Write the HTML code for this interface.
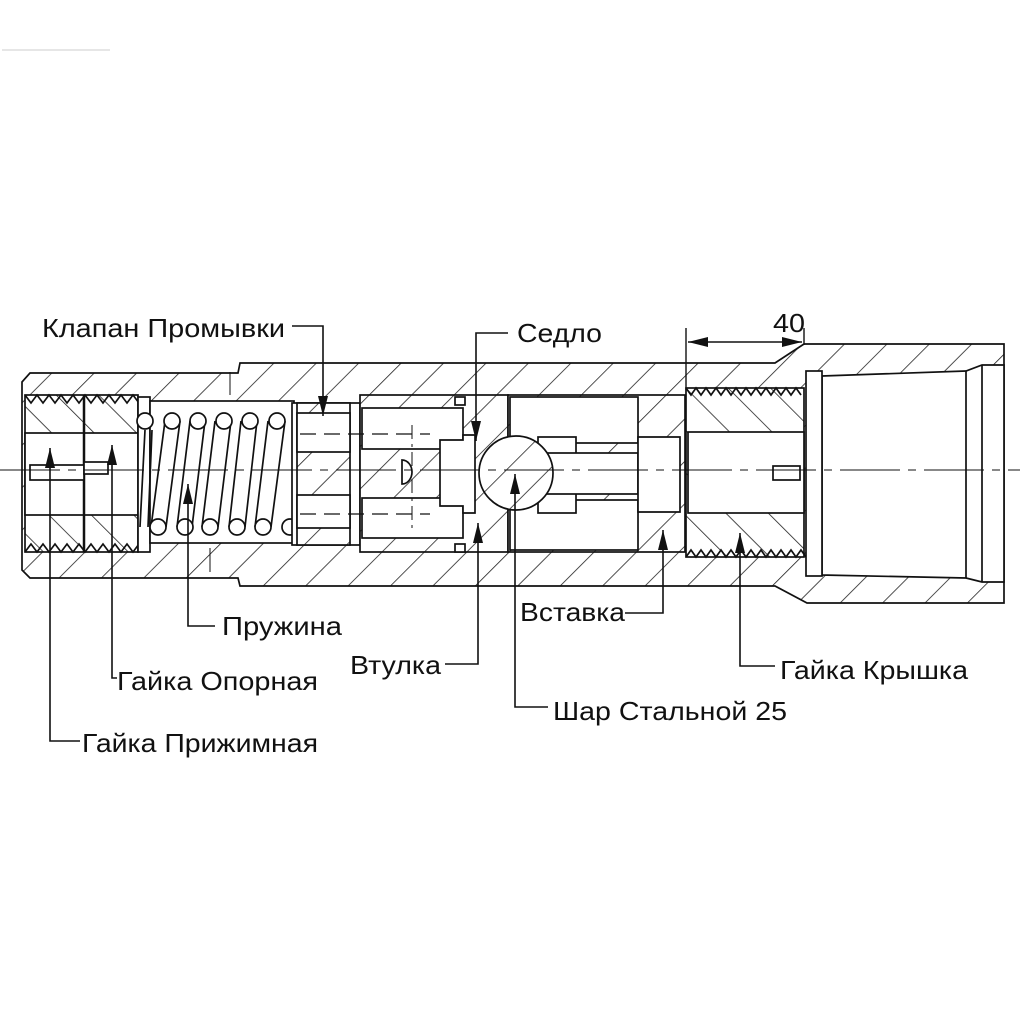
<!DOCTYPE html>
<html><head><meta charset="utf-8"><style>
html,body{margin:0;padding:0;background:#fff;}
svg{display:block;}
text{font-family:"Liberation Sans",sans-serif;font-size:26px;fill:#111;}
</style></head><body>
<svg width="1024" height="1024" viewBox="0 0 1024 1024" xmlns="http://www.w3.org/2000/svg">
<defs>
<pattern id="h" patternUnits="userSpaceOnUse" width="30" height="30" patternTransform="rotate(45)">
<rect width="30" height="30" fill="#fff"/>
<line x1="0" y1="0" x2="0" y2="30" stroke="#222" stroke-width="1.6"/>
</pattern>
<pattern id="h2" patternUnits="userSpaceOnUse" width="30" height="30" patternTransform="rotate(-45)">
<rect width="30" height="30" fill="#fff"/>
<line x1="0" y1="0" x2="0" y2="30" stroke="#222" stroke-width="1.6"/>
</pattern>
<marker id="a" viewBox="0 0 20 10" refX="20" refY="5" markerWidth="20" markerHeight="11" orient="auto-start-reverse" markerUnits="userSpaceOnUse">
<path d="M0,0 L20,5 L0,10 Z" fill="#111"/>
</marker>
</defs>
<line x1="2" y1="50" x2="110" y2="50" stroke="#ccc" stroke-width="1"/>

<g stroke="#111" stroke-width="1.7" fill="none">
<path d="M22,382 L30,373 L238,373 L240,363 L775,363 L804,344 L1004,344 L1004,603 L807,603 L775,586 L240,586 L238,578 L30,578 L22,570 Z" fill="url(#h)"/>
<rect x="25" y="395" width="113" height="157" fill="url(#h2)"/>
<rect x="25" y="433" width="113" height="82" fill="#fff"/>
<line x1="84" y1="395" x2="84" y2="552" stroke-width="2.5"/>
<path d="M25,395 l6,8 l6,-8 l6,8 l6,-8 l6,8 l6,-8 l6,8 l6,-8 l6,8 l6,-8 l6,8 l6,-8 l6,8 l6,-8 l6,8 l6,-8 l6,8 l6,-8 l6,8"/>
<path d="M25,552 l6,-8 l6,8 l6,-8 l6,8 l6,-8 l6,8 l6,-8 l6,8 l6,-8 l6,8 l6,-8 l6,8 l6,-8 l6,8 l6,-8 l6,8 l6,-8 l6,8 l6,-8"/>
<rect x="30" y="465" width="54" height="15" fill="#fff"/>
<rect x="84" y="462" width="24" height="12" fill="#fff"/>
<rect x="138" y="397" width="12" height="155" fill="#fff"/>
<rect x="150" y="401" width="144" height="142" fill="#fff"/>
<line x1="230" y1="372" x2="230" y2="395" stroke-width="1"/>
<line x1="210" y1="548" x2="210" y2="572" stroke-width="1"/>
</g>
<g stroke="#111" stroke-width="1.7" fill="#fff">
<path d="M165,421 L151,527 M180,421 L166,527"/>
<path d="M190,421 L177,527 M205,421 L192,527"/>
<path d="M215,421 L202,527 M231,421 L218,527"/>
<path d="M241,421 L229,527 M257,421 L245,527"/>
<path d="M268,421 L255,527 M285,421 L271,527"/>
<circle cx="145" cy="421" r="8"/>
<circle cx="172" cy="421" r="8"/><circle cx="198" cy="421" r="8"/><circle cx="224" cy="421" r="8"/><circle cx="250" cy="421" r="8"/><circle cx="277" cy="421" r="8"/>
<circle cx="158" cy="527" r="8"/><circle cx="185" cy="527" r="8"/><circle cx="210" cy="527" r="8"/><circle cx="237" cy="527" r="8"/><circle cx="263" cy="527" r="8"/><circle cx="290" cy="527" r="8"/>
<path d="M145,430 L140,527 M152,430 L148,527" fill="none"/>
</g>
<g stroke="#111" stroke-width="1.7" fill="none">
<rect x="292" y="403" width="68" height="142" fill="#fff"/>
<rect x="297" y="403" width="53" height="142" fill="url(#h)"/>
<rect x="297" y="413" width="53" height="39" fill="#fff"/>
<rect x="297" y="495" width="53" height="33" fill="#fff"/>
<rect x="360" y="395" width="148" height="157" fill="url(#h)"/>
<rect x="362" y="408" width="101" height="41" fill="#fff"/>
<rect x="362" y="498" width="101" height="40" fill="#fff"/>
<path d="M440,440 L463,440 L463,435 L475,435 L475,513 L463,513 L463,506 L440,506 Z" fill="#fff"/>
<path d="M402,460 a10,12 0 0 1 0,24 Z" fill="#fff"/>
<path d="M300,434 L430,434 M300,514 L430,514" stroke-dasharray="16,8" stroke-width="1.2"/>
<line x1="412" y1="425" x2="412" y2="530" stroke-width="1" stroke-dasharray="14,5,3,5"/>
<rect x="455" y="397" width="10" height="8" fill="#fff"/>
<rect x="455" y="544" width="10" height="8" fill="#fff"/>
<rect x="508" y="395" width="177" height="157" fill="url(#h)"/>
<rect x="510" y="397" width="128" height="46" fill="#fff"/>
<rect x="510" y="500" width="128" height="50" fill="#fff"/>
<rect x="538" y="437" width="38" height="76" fill="#fff"/>
<rect x="538" y="453" width="100" height="41" fill="#fff"/>
<path d="M638,437 L680,437 L680,512 L638,512 Z" fill="#fff"/>
<circle cx="516" cy="473" r="37" fill="url(#h)"/>
<rect x="686" y="388" width="118" height="169" fill="url(#h2)"/>
<rect x="688" y="432" width="116" height="81" fill="#fff"/>
<path d="M686,388 l5,7 l5,-7 l5,7 l5,-7 l5,7 l5,-7 l5,7 l5,-7 l5,7 l5,-7 l5,7 l5,-7 l5,7 l5,-7 l5,7 l5,-7 l5,7 l5,-7 l5,7 l5,-7 l5,7 l5,-7 l5,7"/>
<path d="M686,557 l5,-7 l5,7 l5,-7 l5,7 l5,-7 l5,7 l5,-7 l5,7 l5,-7 l5,7 l5,-7 l5,7 l5,-7 l5,7 l5,-7 l5,7 l5,-7 l5,7 l5,-7 l5,7 l5,-7 l5,7 l5,-7 l5,7"/>
<rect x="773" y="466" width="27" height="14" fill="#fff"/>
<path d="M822,376 L966,371 L982,365 L1004,365 L1004,582 L982,582 L966,578 L822,575 Z" fill="#fff"/>
<line x1="966" y1="371" x2="966" y2="578"/>
<line x1="982" y1="365" x2="982" y2="582"/>
<rect x="806" y="371" width="16" height="205" fill="#fff"/>
<line x1="0" y1="470" x2="1020" y2="470" stroke-width="1" stroke-dasharray="60,8,8,8"/>
<line x1="686" y1="328" x2="686" y2="390" stroke-width="1.4"/>
<line x1="804" y1="328" x2="804" y2="345" stroke-width="1.4"/>
<line x1="688" y1="342" x2="802" y2="342" stroke-width="1.4" marker-start="url(#a)" marker-end="url(#a)"/>
<g stroke-width="1.6">
<path d="M292,326 L323,326 L323,416" marker-end="url(#a)"/>
<path d="M508,333 L476,333 L476,441" marker-end="url(#a)"/>
<path d="M215,626 L188,626 L188,484" marker-end="url(#a)"/>
<path d="M625,613 L663,613 L663,530" marker-end="url(#a)"/>
<path d="M445,664 L478,664 L478,523" marker-end="url(#a)"/>
<path d="M775,666 L740,666 L740,533" marker-end="url(#a)"/>
<path d="M548,707 L515,707 L515,474" marker-end="url(#a)"/>
<path d="M117,678 L112,678 L112,445" marker-end="url(#a)"/>
<path d="M80,741 L50,741 L50,448" marker-end="url(#a)"/>
</g>
</g>
<text x="42" y="337" textLength="243" lengthAdjust="spacingAndGlyphs">Клапан Промывки</text>
<text x="517" y="342" textLength="85" lengthAdjust="spacingAndGlyphs">Седло</text>
<text x="773" y="332" textLength="32" lengthAdjust="spacingAndGlyphs">40</text>
<text x="222" y="635" textLength="120" lengthAdjust="spacingAndGlyphs">Пружина</text>
<text x="520" y="621" textLength="105" lengthAdjust="spacingAndGlyphs">Вставка</text>
<text x="350" y="674" textLength="91" lengthAdjust="spacingAndGlyphs">Втулка</text>
<text x="117" y="690" textLength="201" lengthAdjust="spacingAndGlyphs">Гайка Опорная</text>
<text x="780" y="679" textLength="188" lengthAdjust="spacingAndGlyphs">Гайка Крышка</text>
<text x="553" y="720" textLength="234" lengthAdjust="spacingAndGlyphs">Шар Стальной 25</text>
<text x="82" y="752" textLength="236" lengthAdjust="spacingAndGlyphs">Гайка Прижимная</text>
</svg>
</body></html>
